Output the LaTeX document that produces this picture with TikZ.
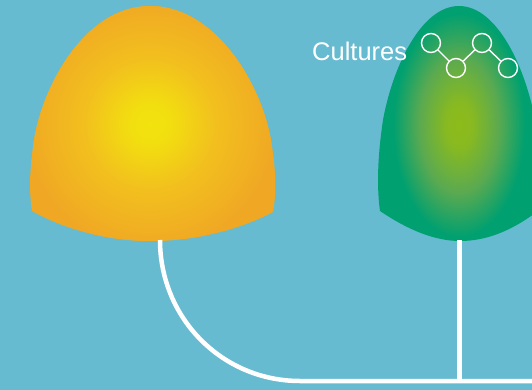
\documentclass[tikz,border=0pt]{standalone}
\usepackage{fontspec}
\setmainfont{Liberation Sans}
\definecolor{bgblue}{HTML}{66BBD0}
\definecolor{ycentre}{HTML}{F2E20E}
\definecolor{ymid}{HTML}{F2C01E}
\definecolor{yedge}{HTML}{F0A824}
\definecolor{gcentre}{HTML}{8DBB1B}
\definecolor{gmid}{HTML}{5BAA50}
\definecolor{gedge}{HTML}{00A070}
\pgfdeclareradialshading{yellowglow}{\pgfpoint{0bp}{0bp}}{
  color(0bp)=(ycentre); color(4bp)=(ycentre!90!ymid); color(13bp)=(ymid); color(25bp)=(yedge); color(50bp)=(yedge)}
\pgfdeclareradialshading{greenglow}{\pgfpoint{0bp}{0bp}}{
  color(0bp)=(gcentre); color(5bp)=(gcentre!90!gmid); color(15bp)=(gmid); color(25bp)=(gedge); color(50bp)=(gedge)}
\tikzset{
  wire/.style={draw=white,line width=4.5pt},
  ring/.style={circle,draw=white,line width=1.4pt,minimum size=19pt,inner sep=0pt},
  link/.style={draw=white,line width=1.4pt},
  label/.style={text=white,font=\fontsize{25.5}{28}\selectfont,inner sep=0pt,anchor=west}
}
\begin{document}
\begin{tikzpicture}[x=1pt,y=-1pt]
\useasboundingbox (0,0) rectangle (532,390);
\fill[bgblue] (0,0) rectangle (532,390);
% yellow dome
\begin{scope}
\clip (32,211) .. controls (28,185) and (31,165) .. (33,147)
  .. controls (39,93) and (82,6) .. (150,6)
  .. controls (218,6) and (265,90) .. (272,147)
  .. controls (275,165) and (277,190) .. (273,212)
  .. controls (235,232) and (190,241) .. (150,241)
  .. controls (110,241) and (65,230) .. (32,211) -- cycle;
\fill[yedge] (0,0) rectangle (300,250);
\shade[shading=yellowglow] (150,124) ellipse (125 and 125);
\end{scope}
% green dome
\begin{scope}
\clip (0,0) rectangle (532,390);
\clip (380,211) .. controls (377,190) and (377,160) .. (383,120)
  .. controls (392,70) and (420,6) .. (459,6)
  .. controls (498,6) and (526,70) .. (535,120)
  .. controls (541,160) and (541,190) .. (538,211)
  .. controls (510,232) and (485,241) .. (460,241)
  .. controls (435,241) and (408,230) .. (380,211) -- cycle;
\fill[gedge] (370,0) rectangle (532,250);
\shade[shading=greenglow] (459,125) ellipse (66 and 112);
\end{scope}
\coordinate (ybase) at (160,240);
\coordinate (gbase) at (459.5,240);
\coordinate (turn) at (300,381);
\coordinate (join) at (459.5,381);
\coordinate (exit) at (532,381);
\draw[wire] (ybase) .. controls (160,318) and (222,381) .. (turn) -- (exit);
\draw[wire] (gbase) -- (join);
\node[ring] (r1) at (431,43) {};
\node[ring] (r2) at (456,68) {};
\node[ring] (r3) at (482,43) {};
\node[ring] (r4) at (508,68) {};
\draw[link] (r1) -- (r2);
\draw[link] (r2) -- (r3);
\draw[link] (r3) -- (r4);
\node[label] (cult) at (312,51) {Cultures};
\end{tikzpicture}
\end{document}
